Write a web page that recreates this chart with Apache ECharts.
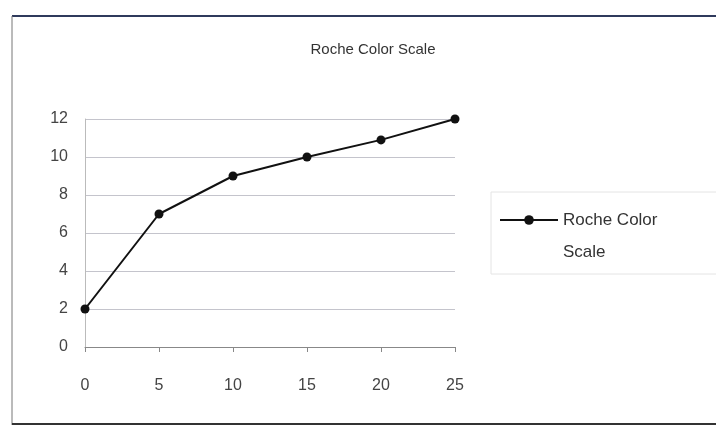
<!DOCTYPE html>
<html>
<head>
<meta charset="utf-8">
<script src="https://cdn.jsdelivr.net/npm/echarts@6/dist/echarts.min.js"></script>
<style>
  html, body { margin: 0; padding: 0; background: #fff; }
  #main { width: 716px; height: 427px; }
</style>
</head>
<body>
<div id="main"></div>
<script>
var chartDom = document.getElementById('main');
var myChart = echarts.init(chartDom);
var option;

const seriesName = 'Roche Color Scale';
const xValues = [0, 5, 10, 15, 20, 25];
const yValues = [2, 7, 9, 10, 10.9, 12];

const points = xValues.map((x, i) => [x, yValues[i]]);

option = {
  backgroundColor: '#fff',
  textStyle: { fontFamily: 'Liberation Sans, Arial, sans-serif' },
  title: {
    text: 'Roche Color Scale',
    left: 368,
    top: 37,
    textAlign: 'center',
    textStyle: { fontSize: 15, fontWeight: 'normal', color: '#333' }
  },
  legend: {
    left: 499,
    top: 172,
    padding: 0,
    orient: 'vertical',
    itemWidth: 58,
    itemHeight: 12,
    // blank first line keeps the icon level with "Roche Color"
    formatter: () => ' \nRoche Color\nScale',
    textStyle: { fontSize: 17, color: '#333', lineHeight: 32 },
    data: [seriesName]
  },
  grid: {
    left: 85,
    right: 261,
    top: 119,
    bottom: 80
  },
  xAxis: {
    type: 'value',
    min: 0,
    max: 25,
    interval: 5,
    axisLine: { lineStyle: { color: '#888', width: 1 } },
    axisTick: { show: true, length: 5, lineStyle: { color: '#888' } },
    axisLabel: { fontSize: 16, color: '#444', margin: 31 },
    splitLine: { show: false }
  },
  yAxis: {
    type: 'value',
    min: 0,
    max: 12,
    interval: 2,
    axisLine: { show: true, lineStyle: { color: '#bbb', width: 1 } },
    axisTick: { show: false },
    axisLabel: { fontSize: 16, color: '#444', margin: 17 },
    splitLine: { lineStyle: { color: '#c4c4cc', width: 1 } }
  },
  graphic: [
    {
      type: 'line',
      shape: { x1: 12, y1: 16, x2: 716, y2: 16 },
      style: { stroke: '#2f3a5c', lineWidth: 2 }
    },
    {
      type: 'line',
      shape: { x1: 12, y1: 16, x2: 12, y2: 425 },
      style: { stroke: '#777', lineWidth: 1 }
    },
    {
      type: 'line',
      shape: { x1: 12, y1: 424, x2: 716, y2: 424 },
      style: { stroke: '#333', lineWidth: 2 }
    },
    {
      type: 'rect',
      shape: { x: 491, y: 192, width: 230, height: 82 },
      style: { fill: 'none', stroke: '#e4e4e4', lineWidth: 1 }
    }
  ],
  series: [
    {
      name: seriesName,
      type: 'line',
      data: points,
      symbol: 'circle',
      symbolSize: 9,
      lineStyle: { color: '#111', width: 2 },
      itemStyle: { color: '#111' }
    }
  ]
};

option && myChart.setOption(option);
</script>
</body>
</html>
